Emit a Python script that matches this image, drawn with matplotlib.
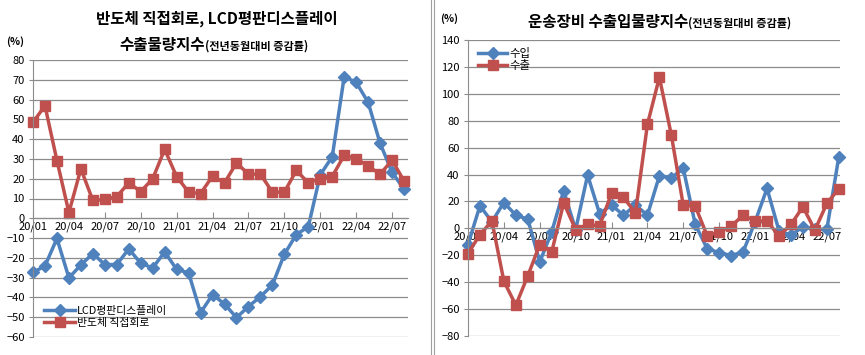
import matplotlib
matplotlib.use('Agg')
import matplotlib.pyplot as plt
from matplotlib.lines import Line2D

plt.rcParams['font.family'] = ['Noto Sans CJK KR', 'DejaVu Sans']

# 월 (2020/01 ~ 2022/08)
months = ['20/01', '20/02', '20/03', '20/04', '20/05', '20/06', '20/07', '20/08',
          '20/09', '20/10', '20/11', '20/12', '21/01', '21/02', '21/03', '21/04',
          '21/05', '21/06', '21/07', '21/08', '21/09', '21/10', '21/11', '21/12',
          '22/01', '22/02', '22/03', '22/04', '22/05', '22/06', '22/07', '22/08']

# 왼쪽: 반도체 직접회로 / LCD평판디스플레이 수출물량지수 증감률(%)
semi = [48.5, 56.9, 29.2, 2.9, 25.0, 9.0, 9.5, 11.0, 17.9, 13.5, 20.0, 34.8,
        21.1, 13.2, 12.5, 21.3, 17.9, 28.0, 22.3, 22.3, 13.2, 13.2, 24.2, 17.9,
        20.1, 21.1, 31.9, 30.2, 26.4, 22.3, 29.4, 18.8]
lcd = [-27.4, -24.1, -10.2, -30.1, -23.6, -17.8, -23.4, -23.4, -15.5, -22.7, -25.1, -17.0,
       -25.8, -27.6, -47.7, -38.6, -43.3, -50.2, -44.6, -39.6, -33.7, -18.2, -8.2, -4.3,
       22.0, 31.1, 71.6, 68.7, 58.6, 37.9, 23.2, 14.7]

# 오른쪽: 운송장비 수출입물량지수 증감률(%)
imports = [-12.0, 16.8, 4.9, 19.2, 9.8, 6.8, -24.9, -2.6, 28.0, -1.0, 39.6, 11.0,
           17.3, 9.8, 17.3, 9.8, 39.0, 37.6, 44.5, 2.9, -15.2, -18.0, -20.2, -17.5,
           4.9, 29.7, -1.8, -5.0, 1.1, -0.8, -0.8, 53.2]
exports = [-18.7, -4.6, 5.4, -39.3, -57.1, -35.3, -12.0, -17.5, 19.0, -0.9, 2.9, 1.9,
           26.0, 23.0, 11.5, 77.3, 112.3, 69.3, 17.0, 16.5, -5.6, -2.6, 1.6, 9.8,
           5.4, 5.4, -5.6, 2.9, 16.0, -1.3, 18.5, 29.5]

BLUE = '#4F81BD'
RED = '#C0504D'
GRID = '#8C8C8C'

W, H = 865, 355
fig = plt.figure(figsize=(W / 100, H / 100), dpi=100)


def px_axes(x0, x1, y0, y1):
    """픽셀 좌표(위에서부터) → axes."""
    return fig.add_axes([x0 / W, 1 - y1 / H, (x1 - x0) / W, (y1 - y0) / H])


def style(ax, ymin, ymax, ystep, xmax):
    x = list(range(len(months)))
    ax.set_xlim(0, xmax)
    ax.set_ylim(ymin, ymax)
    ax.set_yticks(range(ymin, ymax + 1, ystep))
    ax.yaxis.grid(True, color=GRID, lw=0.9)
    ax.set_axisbelow(True)
    for s in ('top', 'right'):
        ax.spines[s].set_visible(False)
    ax.spines['left'].set_color(GRID)
    ax.spines['bottom'].set_color(GRID)
    ax.spines['bottom'].set_position(('data', 0))
    ax.set_xticks(x[::3])
    ax.set_xticklabels(months[::3], fontsize=8)
    ax.tick_params(axis='x', direction='in', length=4, color=GRID, pad=2)
    ax.tick_params(axis='y', direction='out', length=3, color=GRID, labelsize=8, pad=3)
    for lab in ax.get_xticklabels():
        lab.set_zorder(5)
    return x


# ---------- 왼쪽 패널 ----------
ax1 = px_axes(33, 408, 60, 337)
x = style(ax1, -60, 80, 10, 31.33)
ax1.plot(x, lcd, color=BLUE, lw=2.5, marker='D', ms=6, mec=BLUE, mfc=BLUE,
         label='LCD평판디스플레이', clip_on=False)
ax1.plot(x, semi, color=RED, lw=2.5, marker='s', ms=7, mec=RED, mfc=RED,
         label='반도체 직접회로', clip_on=False)
ax1.legend(loc='lower left', bbox_to_anchor=(0.01, 0.005), frameon=False,
           fontsize=7.8, handlelength=2.8, handletextpad=0.2, labelspacing=0.2,
           borderaxespad=0.3)

fig.text(217 / W, 1 - 19 / H, '반도체 직접회로, LCD평판디스플레이',
         ha='center', va='center', fontsize=11.2, fontweight='bold')
fig.text(205 / W, 1 - 45 / H, '수출물량지수', ha='right', va='center',
         fontsize=11.2, fontweight='bold')
fig.text(205 / W, 1 - 46 / H, '(전년동월대비 증감률)', ha='left', va='center',
         fontsize=8, fontweight='bold')
fig.text(15 / W, 1 - 42 / H, '(%)', ha='center', va='center', fontsize=7.5,
         fontweight='bold')

# ---------- 오른쪽 패널 ----------
ax2 = px_axes(468, 840, 40, 336)
x = style(ax2, -80, 140, 20, 31.1)
ax2.plot(x, imports, color=BLUE, lw=2.5, marker='D', ms=6, mec=BLUE, mfc=BLUE,
         label='수입', clip_on=False)
ax2.plot(x, exports, color=RED, lw=2.5, marker='s', ms=7, mec=RED, mfc=RED,
         label='수출', clip_on=False)
ax2.legend(loc='upper left', bbox_to_anchor=(0.005, 1.0), frameon=False,
           fontsize=8.2, handlelength=2.6, handletextpad=0.2, labelspacing=0.1,
           borderaxespad=0.3)

fig.text(688 / W, 1 - 22 / H, '운송장비 수출입물량지수', ha='right', va='center',
         fontsize=11.2, fontweight='bold')
fig.text(688 / W, 1 - 23 / H, '(전년동월대비 증감률)', ha='left', va='center',
         fontsize=8, fontweight='bold')
fig.text(449 / W, 1 - 19 / H, '(%)', ha='center', va='center', fontsize=7.5,
         fontweight='bold')

# 가운데 구분선 (이중선)
for xp in (430.5, 433.5):
    fig.add_artist(Line2D([xp / W, xp / W], [0, 1], color='#A0A0A0', lw=0.8))

fig.savefig('out.png', dpi=100)
